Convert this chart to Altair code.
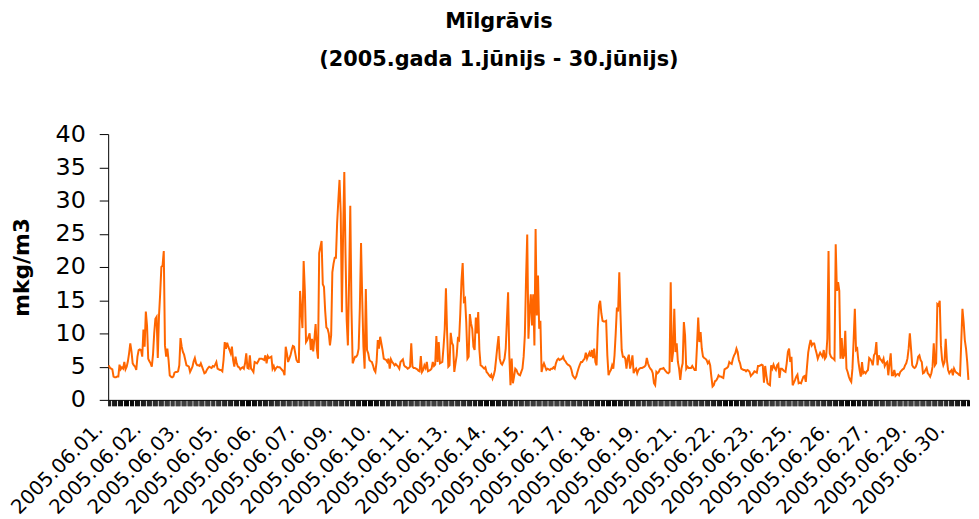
import json
import altair as alt
import pandas as pd

# Hourly values (mkg/m3), June 2005, one list per day (24 hours each)
day01 = [5.2, 4.8, 4.7, 4.6, 3.5, 3.4, 3.4, 3.5, 3.5, 5.3, 4.6, 4.9, 4.7, 5.7, 4.6, 5.0, 5.8, 7.0, 8.5, 7.3, 5.5, 5.2, 5.0, 4.5]
day02 = [6.5, 7.5, 7.6, 7.5, 6.5, 10.6, 8.0, 13.3, 11.2, 6.2, 5.8, 5.5, 5.0, 6.8, 10.0, 12.2, 12.5, 6.3, 12.6, 16.0, 20.0, 20.2, 22.4, 8.2]
day03 = [6.5, 7.7, 6.0, 3.7, 3.5, 3.4, 3.5, 4.1, 4.2, 4.2, 4.3, 5.2, 9.3, 8.0, 7.2, 6.8, 6.0, 5.2, 5.1, 5.0, 4.2, 4.6, 5.0, 5.8]
day04 = [6.3, 5.5, 5.2, 5.2, 5.1, 5.5, 5.0, 4.5, 4.0, 4.1, 4.5, 4.8, 5.0, 4.9, 4.8, 5.1, 5.0, 5.3, 5.7, 4.7, 4.6, 4.5, 4.5, 4.3]
day05 = [6.0, 8.7, 7.7, 8.6, 8.0, 7.5, 7.0, 8.0, 6.0, 5.0, 6.5, 5.5, 5.0, 4.9, 4.6, 4.8, 4.9, 4.7, 5.5, 7.0, 4.8, 4.7, 6.7, 4.7]
day06 = [4.5, 4.2, 5.7, 5.6, 5.5, 5.8, 6.2, 6.2, 6.2, 6.1, 6.0, 6.7, 5.5, 6.6, 6.3, 6.4, 6.5, 4.7, 5.1, 4.5, 4.8, 5.0, 4.9, 4.9]
day07 = [4.7, 4.5, 4.3, 3.7, 8.0, 7.0, 5.7, 6.2, 6.7, 7.5, 8.1, 8.0, 7.0, 6.0, 5.7, 5.7, 16.4, 13.4, 10.8, 20.9, 16.4, 8.7, 9.0, 9.5]
day08 = [10.0, 7.5, 9.2, 7.3, 9.2, 11.4, 7.7, 6.2, 22.1, 23.0, 23.9, 17.4, 17.0, 13.4, 10.9, 10.7, 10.0, 8.2, 9.7, 19.2, 20.5, 21.4, 21.4, 26.6]
day09 = [30.0, 33.1, 28.1, 13.2, 25.0, 34.3, 22.1, 12.0, 8.2, 18.0, 29.2, 13.7, 5.5, 6.0, 6.5, 6.5, 6.8, 7.7, 13.9, 23.6, 15.2, 8.0, 4.7, 16.7]
day10 = [7.5, 7.0, 6.0, 5.8, 5.7, 5.2, 4.5, 4.2, 5.7, 9.0, 7.7, 9.5, 8.5, 7.5, 6.2, 6.1, 6.0, 5.7, 6.2, 4.7, 6.1, 5.7, 5.5, 5.2]
day11 = [5.4, 5.2, 5.0, 4.7, 5.7, 5.9, 6.1, 5.2, 5.0, 4.9, 4.7, 4.8, 5.0, 8.5, 5.0, 4.8, 4.8, 4.7, 4.6, 4.4, 4.3, 6.6, 4.2, 4.5]
day12 = [5.2, 4.8, 5.7, 4.3, 4.4, 4.5, 4.7, 5.7, 5.1, 5.3, 9.6, 5.7, 8.7, 5.5, 5.6, 5.7, 8.0, 10.7, 16.8, 10.0, 5.0, 5.2, 10.1, 8.6]
day13 = [8.2, 4.2, 5.5, 6.7, 9.2, 9.0, 13.0, 17.9, 20.6, 14.9, 15.2, 11.7, 6.2, 6.5, 12.9, 11.5, 10.7, 8.0, 7.5, 12.4, 10.0, 13.2, 7.5, 5.2]
day14 = [5.1, 4.9, 4.7, 4.9, 4.2, 4.0, 3.7, 3.5, 3.8, 3.2, 3.7, 4.5, 6.2, 8.0, 9.6, 6.2, 5.5, 5.3, 5.7, 6.2, 7.7, 12.0, 16.2, 6.7]
day15 = [2.2, 6.2, 2.5, 3.5, 4.7, 4.5, 4.0, 3.8, 3.7, 4.2, 4.7, 6.5, 9.7, 18.2, 24.9, 9.2, 13.4, 15.9, 11.2, 15.9, 8.2, 25.7, 12.7, 18.7]
day16 = [10.7, 11.9, 4.2, 5.0, 5.5, 5.0, 4.5, 4.7, 4.6, 4.5, 4.7, 4.7, 4.9, 4.7, 5.5, 6.0, 6.2, 6.0, 6.1, 6.2, 6.5, 6.0, 5.8, 5.5]
day17 = [5.3, 5.2, 5.0, 4.5, 3.7, 3.4, 3.2, 3.5, 4.2, 4.8, 5.3, 5.7, 5.7, 6.0, 6.2, 7.1, 6.2, 6.7, 7.1, 6.5, 7.5, 6.3, 7.7, 5.7]
day18 = [5.2, 10.7, 14.2, 14.9, 13.0, 11.9, 11.8, 11.8, 11.9, 6.7, 3.7, 4.2, 4.5, 5.2, 4.7, 6.7, 10.0, 13.9, 13.3, 19.2, 12.9, 7.5, 6.5, 6.5]
day19 = [6.2, 4.7, 6.2, 6.8, 4.7, 5.5, 6.7, 4.0, 4.5, 4.7, 4.0, 4.5, 4.7, 4.8, 4.8, 4.9, 5.0, 5.2, 6.3, 5.5, 5.0, 4.7, 4.5, 4.0]
day20 = [2.5, 2.2, 4.2, 4.0, 4.2, 4.6, 4.7, 4.7, 4.8, 4.5, 4.3, 4.1, 4.0, 4.2, 17.7, 5.7, 7.2, 13.7, 7.2, 8.5, 5.7, 4.7, 3.0, 4.7]
day21 = [5.5, 11.7, 9.7, 4.7, 5.0, 4.8, 4.8, 4.8, 5.1, 4.8, 4.5, 4.5, 8.2, 12.4, 8.7, 10.2, 7.7, 6.5, 6.3, 6.2, 6.0, 5.5, 5.8, 5.2]
day22 = [3.5, 2.0, 2.2, 2.8, 2.9, 3.2, 3.7, 3.5, 3.5, 3.4, 3.3, 4.6, 4.7, 4.8, 5.0, 5.7, 5.5, 5.4, 6.2, 6.7, 7.0, 7.7, 7.2, 6.0]
day23 = [5.5, 4.7, 4.6, 4.5, 4.5, 4.3, 4.5, 4.4, 4.2, 3.6, 3.8, 4.0, 4.3, 4.2, 4.1, 5.1, 5.1, 5.2, 5.3, 5.2, 2.6, 5.1, 3.7, 2.5]
day24 = [2.3, 2.2, 5.2, 4.7, 5.3, 4.8, 4.5, 5.2, 5.4, 3.3, 4.7, 4.7, 4.5, 4.3, 4.2, 5.5, 7.2, 7.7, 5.7, 6.5, 2.2, 2.6, 3.0, 3.5]
day25 = [3.8, 2.5, 2.6, 2.5, 3.0, 3.5, 3.6, 2.7, 5.0, 7.1, 8.2, 9.0, 8.2, 8.5, 8.5, 7.7, 7.0, 6.2, 6.7, 7.1, 6.8, 6.5, 7.5, 6.2]
day26 = [6.5, 9.2, 22.4, 7.0, 6.5, 6.3, 6.2, 6.0, 23.4, 16.4, 17.7, 16.4, 6.2, 9.3, 6.2, 6.7, 10.4, 4.7, 4.2, 3.5, 3.0, 2.7, 4.7, 9.0]
day27 = [13.7, 7.5, 7.7, 5.7, 4.5, 3.5, 5.7, 4.0, 4.2, 4.0, 4.3, 4.5, 6.3, 6.1, 5.8, 5.2, 6.7, 7.0, 8.7, 5.2, 6.7, 6.2, 6.0, 5.7]
day28 = [6.2, 5.1, 5.5, 5.7, 3.7, 5.5, 7.0, 3.7, 3.7, 4.5, 3.6, 3.8, 3.9, 3.7, 4.2, 4.4, 4.6, 4.7, 5.2, 5.5, 6.2, 7.7, 10.0, 7.7]
day29 = [5.2, 4.9, 4.8, 5.0, 5.5, 6.5, 6.7, 6.0, 5.7, 4.0, 4.1, 4.5, 4.8, 4.0, 3.8, 3.5, 4.0, 5.0, 8.5, 5.2, 5.5, 14.4, 14.2, 14.9]
day30 = [8.2, 6.0, 5.2, 5.7, 9.2, 6.0, 4.5, 4.0, 4.3, 4.5, 3.7, 4.7, 4.3, 4.1, 4.0, 3.8, 3.7, 8.7, 13.7, 11.7, 9.0, 7.7, 5.7, 3.0]

days = [day01, day02, day03, day04, day05, day06, day07, day08, day09, day10,
        day11, day12, day13, day14, day15, day16, day17, day18, day19, day20,
        day21, day22, day23, day24, day25, day26, day27, day28, day29, day30]

# Category-axis labels (Excel shows one every 32 hourly categories)
tick_labels = ["2005.06.01.", "2005.06.02.", "2005.06.03.", "2005.06.05.", "2005.06.06.",
               "2005.06.07.", "2005.06.09.", "2005.06.10.", "2005.06.11.", "2005.06.13.",
               "2005.06.14.", "2005.06.15.", "2005.06.17.", "2005.06.18.", "2005.06.19.",
               "2005.06.21.", "2005.06.22.", "2005.06.23.", "2005.06.25.", "2005.06.26.",
               "2005.06.27.", "2005.06.29.", "2005.06.30."]
label_step = 32
y_ticks = [0, 5, 10, 15, 20, 25, 30, 35, 40]

values = [v for d in days for v in d]
n = len(values)
df = pd.DataFrame({"hour": [i + 0.5 for i in range(n)], "value": values})

label_expr = (
    f"(datum.value % {label_step} == 0 && datum.value < {n}) ? "
    f"{json.dumps(tick_labels)}[datum.value / {label_step}] : ''"
)

FONT = "DejaVu Sans"

chart = (
    alt.Chart(df)
    .mark_line(color="#FF6600", strokeWidth=2)
    .encode(
        x=alt.X(
            "hour:Q",
            scale=alt.Scale(domain=[0, n], nice=False, zero=False),
            axis=alt.Axis(
                values=list(range(0, n + 1)),
                labelExpr=label_expr,
                labelAngle=315,
                labelAlign="right",
                labelBaseline="top",
                labelFont=FONT,
                labelFontSize=20,
                labelColor="black",
                labelPadding=13,
                labelOffset=-16,
                labelOverlap=False,
                labelFlush=False,
                labelBound=False,
                ticks=True,
                tickSize=6,
                tickColor="black",
                tickOpacity=1,
                tickWidth=1,
                tickRound=True,
                domainColor="black",
                domainWidth=1,
                grid=False,
                title=None,
            ),
        ),
        y=alt.Y(
            "value:Q",
            scale=alt.Scale(domain=[0, 40], nice=False),
            axis=alt.Axis(
                values=y_ticks,
                labelFont=FONT,
                labelFontSize=24,
                labelColor="black",
                labelPadding=14,
                ticks=True,
                tickSize=9,
                tickColor="black",
                tickOpacity=1,
                tickWidth=1,
                domainColor="black",
                grid=False,
                title="mkg/m3",
                titleFont=FONT,
                titleFontSize=22,
                titleFontWeight="bold",
                titleColor="black",
                titleAngle=270,
                titleAlign="center",
                titleBaseline="middle",
                titleX=-87,
                titleY=134,
            ),
        ),
    )
    .properties(
        width=868,
        height=268,
        autosize=alt.AutoSizeParams(type="none"),
        padding={"left": 101, "top": 125, "right": 2, "bottom": 118},
        title=alt.TitleParams(
            text=["Mīlgrāvis", "(2005.gada 1.jūnijs - 30.jūnijs)"],
            font=FONT,
            fontSize=21,
            fontWeight="bold",
            color="black",
            anchor="middle",
            dx=-40,
            offset=53,
            lineHeight=38,
        ),
    )
    .configure_view(stroke=None)
)

chart.save("out.html", embed_options={"renderer": "svg", "actions": False})
